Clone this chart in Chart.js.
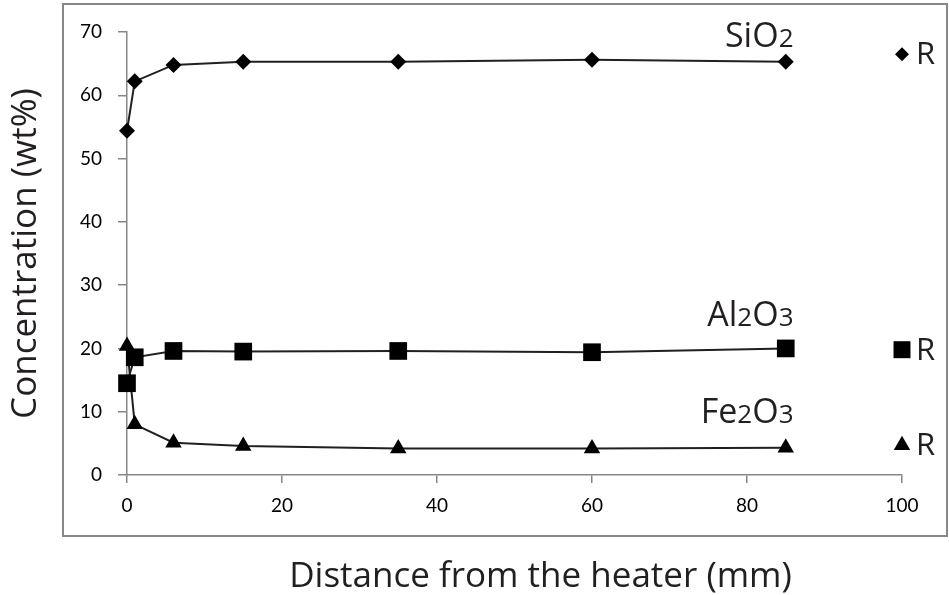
<!DOCTYPE html>
<html>
<head>
<meta charset="utf-8">
<script src="https://cdn.jsdelivr.net/npm/chart.js@4"></script>
<style>
  html, body { margin: 0; padding: 0; background: #fff; }
  #wrap { width: 949px; height: 595px; }
</style>
</head>
<body>
<div id="wrap"><canvas id="lineChart"></canvas></div>
<script>
// distances (mm) and concentrations (wt%)
const distances = [0, 1, 6, 15, 35, 60, 85];
const sio2 = [54.4, 62.2, 64.8, 65.3, 65.3, 65.6, 65.3];
const al2o3 = [14.5, 18.6, 19.6, 19.5, 19.6, 19.4, 20.0];
const fe2o3 = [20.4, 8.0, 5.1, 4.6, 4.2, 4.2, 4.3];
// reference (R) values shown at 100 mm
const refX = 100;
const refSio2 = 66.5;
const refAl2o3 = 19.8;
const refFe2o3 = 4.7;
const xTicks = [0, 20, 40, 60, 80, 100];
const yTicks = [0, 10, 20, 30, 40, 50, 60, 70];

const ink = '#231f20';
const axisGrey = '#878787';
const toPoints = vals => vals.map((v, i) => ({ x: distances[i], y: v }));

// text pieces alternate normal / smaller digit
const seriesLabels = [
  { parts: ['SiO', '2'], x: 86, y: 67.7 },
  { parts: ['Al', '2', 'O', '3'], x: 86, y: 23.6 },
  { parts: ['Fe', '2', 'O', '3'], x: 86, y: 8.2 }
];

const framePlugin = {
  id: 'frame',
  beforeDraw(chart) {
    const c = chart.ctx;
    c.save();
    c.strokeStyle = axisGrey;
    c.lineWidth = 2;
    c.strokeRect(63, 4, 884, 532);
    c.restore();
  },
  afterDatasetsDraw(chart) {
    const c = chart.ctx;
    const xs = chart.scales.x, ys = chart.scales.y;
    const fontFor = i => (i % 2 ? '26px' : '34px') + ' "Open Sans"';
    c.save();
    c.fillStyle = ink;
    c.textBaseline = 'alphabetic';
    seriesLabels.forEach(lab => {
      let w = 0;
      lab.parts.forEach((p, i) => { c.font = fontFor(i); w += c.measureText(p).width; });
      let px = xs.getPixelForValue(lab.x) - w;
      const py = ys.getPixelForValue(lab.y);
      lab.parts.forEach((p, i) => {
        c.font = fontFor(i);
        c.fillText(p, px, py);
        px += c.measureText(p).width;
      });
    });
    // R labels next to the reference markers
    c.font = '31px "Open Sans"';
    c.textBaseline = 'middle';
    [refSio2, refAl2o3, refFe2o3].forEach(v => {
      c.fillText('R', xs.getPixelForValue(refX) + 14, ys.getPixelForValue(v) + 1);
    });
    // x axis title, centred a bit right of the plot like the original
    c.font = '35px "Open Sans"';
    c.textAlign = 'center';
    c.textBaseline = 'alphabetic';
    c.fillText('Distance from the heater (mm)', (xs.left + xs.right) / 2 + 26, 587);
    c.restore();
  }
};

const lineSet = (label, vals, style, r) => ({
  label,
  data: toPoints(vals),
  borderColor: ink,
  backgroundColor: '#000',
  borderWidth: 2,
  pointStyle: style,
  pointRadius: r,
  pointBorderWidth: 0,
  tension: 0
});
const refSet = (label, v, style, r) => ({
  label,
  data: [{ x: refX, y: v }],
  showLine: false,
  backgroundColor: '#000',
  borderColor: '#000',
  pointStyle: style,
  pointRadius: r,
  pointBorderWidth: 0
});

new Chart(document.getElementById('lineChart').getContext('2d'), {
  type: 'line',
  data: {
    datasets: [
      lineSet('SiO2', sio2, 'rectRot', 8),
      lineSet('Al2O3', al2o3, 'rect', 12.5),
      lineSet('Fe2O3', fe2o3, 'triangle', 9.5),
      refSet('SiO2 R', refSio2, 'rectRot', 7),
      refSet('Al2O3 R', refAl2o3, 'rect', 12),
      refSet('Fe2O3 R', refFe2o3, 'triangle', 9.5)
    ]
  },
  options: {
    responsive: true,
    maintainAspectRatio: false,
    animation: false,
    clip: false,
    layout: { padding: { top: 32, right: 47, left: 0, bottom: 0 } },
    plugins: { legend: { display: false }, tooltip: { enabled: false } },
    scales: {
      x: {
        type: 'linear',
        min: 0, max: 100,
        afterBuildTicks: s => { s.ticks = xTicks.map(v => ({ value: v })); },
        afterFit: s => { s.height = 120; },
        grid: { drawOnChartArea: false, color: axisGrey, tickLength: 8, lineWidth: 1.5 },
        border: { color: axisGrey, width: 1.5 },
        ticks: { color: '#000', font: { family: 'Lato', size: 19 }, padding: 11, maxRotation: 0 },
        title: { display: false }
      },
      y: {
        min: 0, max: 70,
        afterBuildTicks: s => { s.ticks = yTicks.map(v => ({ value: v })); },
        afterFit: s => { s.width = 127; },
        grid: { drawOnChartArea: false, color: axisGrey, tickLength: 9, lineWidth: 1.5 },
        border: { color: axisGrey, width: 1.5 },
        ticks: { color: '#000', font: { family: 'Lato', size: 19 }, padding: 16 },
        title: {
          display: true,
          text: 'Concentration (wt%)',
          color: ink,
          font: { family: 'Open Sans', size: 35 },
          padding: { top: 5, bottom: 0 }
        }
      }
    }
  },
  plugins: [framePlugin]
});
</script>
</body>
</html>
